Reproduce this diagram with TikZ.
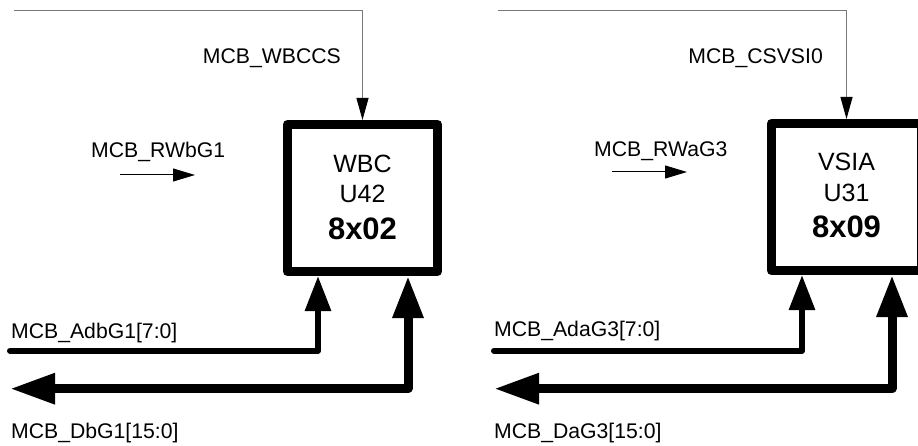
\documentclass[tikz,border=0pt]{standalone}
\usepackage{fontspec}
\setmainfont{Liberation Sans}
\usetikzlibrary{arrows.meta}
\definecolor{sgray}{RGB}{120,120,120}
\begin{document}
\begin{tikzpicture}[x=1pt,y=-1pt,
  lbl/.style={font=\fontsize{21.2}{25}\selectfont, inner sep=0pt},
  boxtxt/.style={font=\fontsize{25}{30}\selectfont, inner sep=0pt, anchor=base},
  boxnum/.style={font=\fontsize{31}{36}\selectfont\bfseries, inner sep=0pt, anchor=base},
  chip/.style={draw, line width=9pt, line join=round, minimum width=150pt, minimum height=147pt, inner sep=0pt},
  csline/.style={draw=sgray, line width=1pt, -{Triangle[length=22pt,width=12pt,color=black]}},
  rwarrow/.style={draw, line width=1pt, -{Triangle[length=22pt,width=13pt]}},
  busa/.style={draw, line width=6pt, line cap=round, line join=round, -{Triangle[length=35pt,width=25pt]}},
  busd/.style={draw, line width=9pt, line join=round, {Triangle[length=45pt,width=29pt]}-{Triangle[length=42pt,width=29pt]}}
]
\path[use as bounding box] (0,0) rectangle (918,446);
\clip (0,0) rectangle (918,446);

% ---------- left unit ----------
\node[chip] (chipA) at (362.5,198) {};
\node[boxtxt] (nameA) at (362.5,173) {WBC};
\node[boxtxt] (refA) at (362.5,203) {U42};
\node[boxnum] (addrA) at (362.5,240) {8x02};

\coordinate (csA) at (14,11);
\draw[csline] (csA) -| (chipA.north);
\node[lbl, anchor=base east] (csAl) at (341,64) {MCB\_WBCCS};

\node[lbl, anchor=base west] (rwAl) at (91,158) {MCB\_RWbG1};
\coordinate (rwAs) at (120,175);
\coordinate (rwAe) at (195,175);
\draw[rwarrow] (rwAs) -- (rwAe);

\coordinate (adA) at (10,350.7);
\draw[busa] (adA) -| ([xshift=-44.5pt]chipA.south);
\node[lbl, anchor=base west] (adAl) at (11,338) {MCB\_AdbG1[7:0]};

\coordinate (dbA) at (10,388.7);
\draw[busd] (dbA) -| ([xshift=45.5pt]chipA.south);
\node[lbl, anchor=base west] (dbAl) at (11,438) {MCB\_DbG1[15:0]};

% ---------- right unit ----------
\node[chip] (chipB) at (846.5,197) {};
\node[boxtxt] (nameB) at (846.5,171) {VSIA};
\node[boxtxt] (refB) at (846.5,202) {U31};
\node[boxnum] (addrB) at (846.5,238) {8x09};

\coordinate (csB) at (498,11);
\draw[csline] (csB) -| (chipB.north);
\node[lbl, anchor=base east] (csBl) at (823,64) {MCB\_CSVSI0};

\node[lbl, anchor=base west] (rwBl) at (594,157) {MCB\_RWaG3};
\coordinate (rwBs) at (612,172);
\coordinate (rwBe) at (687,172);
\draw[rwarrow] (rwBs) -- (rwBe);

\coordinate (adB) at (494,350.7);
\draw[busa] (adB) -| ([xshift=-44.5pt]chipB.south);
\node[lbl, anchor=base west] (adBl) at (494,336) {MCB\_AdaG3[7:0]};

\coordinate (dbB) at (494,388.7);
\draw[busd] (dbB) -| ([xshift=45.5pt]chipB.south);
\node[lbl, anchor=base west] (dbBl) at (494,438) {MCB\_DaG3[15:0]};
\end{tikzpicture}
\end{document}
